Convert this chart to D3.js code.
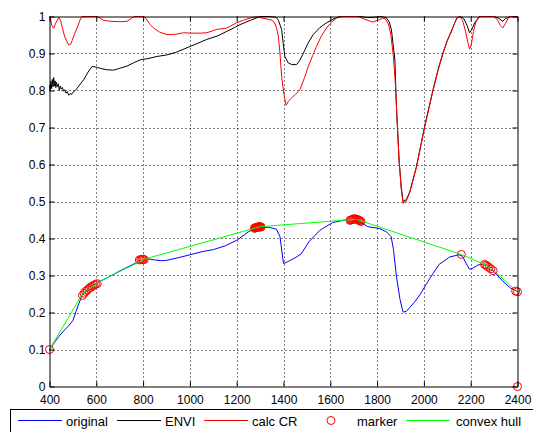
<!DOCTYPE html>
<html>
<head>
<meta charset="utf-8">
<script src="https://cdn.jsdelivr.net/npm/d3@7"></script>
<style>
  html, body { margin: 0; padding: 0; background: #fff; }
  svg { display: block; }
  text { font-family: "Liberation Sans", Arial, Helvetica, sans-serif; }
</style>
</head>
<body>
<svg id="chart" width="533" height="432"></svg>
<script>
// ---- tick labels ----
const xTicks = [400, 600, 800, 1000, 1200, 1400, 1600, 1800, 2000, 2200, 2400];
const yTicks = [0, 0.1, 0.2, 0.3, 0.4, 0.5, 0.6, 0.7, 0.8, 0.9, 1];
const yTickLabels = ["0", "0.1", "0.2", "0.3", "0.4", "0.5", "0.6", "0.7", "0.8", "0.9", "1"];

// ---- original reflectance spectrum ----
const originalWl = [400, 420, 440, 460, 480, 500, 520, 540, 560, 580, 600, 650, 700, 750, 800, 820, 850, 880, 900,
  950, 1000, 1050, 1100, 1150, 1200, 1250, 1280, 1300, 1340, 1370, 1385, 1400, 1420, 1445, 1475, 1510, 1555, 1610,
  1660, 1700, 1740, 1760, 1810, 1840, 1860, 1870, 1883, 1898, 1911, 1925, 1940, 1960, 1985, 2025, 2065, 2110, 2150,
  2165, 2180, 2195, 2210, 2230, 2250, 2270, 2300, 2325, 2350, 2370, 2390, 2400];
const originalVal = [0.100, 0.118, 0.135, 0.150, 0.163, 0.178, 0.215, 0.248, 0.260, 0.270, 0.279, 0.295, 0.312, 0.328,
  0.343, 0.345, 0.342, 0.340, 0.341, 0.348, 0.356, 0.364, 0.370, 0.380, 0.395, 0.418, 0.427, 0.430, 0.430, 0.425,
  0.405, 0.332, 0.338, 0.346, 0.358, 0.392, 0.422, 0.443, 0.450, 0.452, 0.440, 0.432, 0.427, 0.418, 0.405, 0.370,
  0.296, 0.235, 0.201, 0.203, 0.214, 0.228, 0.250, 0.292, 0.330, 0.350, 0.356, 0.352, 0.333, 0.317, 0.320, 0.328,
  0.331, 0.327, 0.310, 0.293, 0.277, 0.266, 0.260, 0.256];

// ---- ENVI continuum-removed spectrum ----
const enviWl = [400, 403, 406, 409, 412, 415, 418, 421, 424, 427, 430, 434, 438, 442, 446, 450, 455, 460, 465, 470,
  476, 482, 488, 494, 500, 510, 525, 546, 565, 582, 600, 617, 645, 674, 700, 731, 760, 788, 820, 859, 900, 940, 1001,
  1072, 1120, 1158, 1190, 1214, 1260, 1300, 1340, 1368, 1378, 1392, 1400, 1406, 1420, 1435, 1456, 1470, 1485, 1505,
  1527, 1555, 1584, 1615, 1641, 1700, 1730, 1760, 1790, 1820, 1840, 1852, 1861, 1876, 1883, 1894, 1903, 1911, 1925,
  1940, 1968, 2003, 2039, 2060, 2081, 2100, 2117, 2130, 2141, 2155, 2170, 2185, 2195, 2205, 2217, 2237, 2300, 2320,
  2337, 2350, 2370, 2400];
const enviVal = [0.815, 0.800, 0.825, 0.805, 0.830, 0.810, 0.835, 0.812, 0.826, 0.808, 0.822, 0.810, 0.818, 0.800,
  0.812, 0.804, 0.808, 0.798, 0.802, 0.793, 0.797, 0.787, 0.792, 0.789, 0.795, 0.800, 0.812, 0.829, 0.850, 0.865,
  0.863, 0.860, 0.856, 0.855, 0.860, 0.866, 0.875, 0.883, 0.886, 0.892, 0.896, 0.903, 0.919, 0.938, 0.948, 0.960,
  0.970, 0.978, 0.990, 1.000, 1.000, 0.998, 0.990, 0.965, 0.920, 0.892, 0.875, 0.870, 0.870, 0.882, 0.901, 0.928,
  0.951, 0.970, 0.983, 0.994, 1.000, 1.000, 1.000, 0.997, 0.998, 1.000, 0.996, 0.985, 0.965, 0.883, 0.748, 0.612,
  0.540, 0.500, 0.505, 0.527, 0.594, 0.703, 0.802, 0.855, 0.901, 0.935, 0.960, 0.980, 0.996, 1.000, 0.995, 0.975,
  0.956, 0.965, 0.983, 1.000, 1.000, 0.995, 0.987, 0.995, 1.000, 1.000];

// ---- calculated continuum removal ----
const calcWl = [400, 404, 410, 418, 425, 433, 440, 447, 455, 463, 472, 482, 490, 497, 507, 518, 530, 539, 600, 610,
  630, 660, 700, 731, 750, 760, 800, 812, 830, 845, 870, 902, 940, 973, 1010, 1044, 1072, 1100, 1115, 1158, 1200,
  1230, 1257, 1290, 1300, 1330, 1350, 1360, 1370, 1378, 1385, 1392, 1402, 1411, 1422, 1435, 1452, 1470, 1490, 1506,
  1525, 1541, 1560, 1584, 1605, 1627, 1650, 1720, 1745, 1780, 1805, 1824, 1836, 1848, 1858, 1870, 1878, 1885, 1894,
  1903, 1911, 1925, 1940, 1968, 2003, 2039, 2060, 2081, 2100, 2117, 2130, 2141, 2153, 2165, 2178, 2188, 2195, 2203,
  2212, 2222, 2237, 2300, 2315, 2327, 2337, 2347, 2360, 2370, 2400];
const calcVal = [1.000, 0.996, 0.975, 0.968, 0.980, 0.990, 0.998, 0.990, 0.970, 0.950, 0.935, 0.923, 0.925, 0.935,
  0.953, 0.969, 0.990, 1.000, 1.000, 0.998, 0.990, 0.987, 0.986, 0.987, 0.995, 1.000, 1.000, 0.995, 0.978, 0.969,
  0.958, 0.951, 0.952, 0.956, 0.955, 0.955, 0.956, 0.962, 0.965, 0.969, 0.983, 0.990, 0.996, 1.000, 0.997, 0.993,
  0.990, 0.985, 0.970, 0.947, 0.900, 0.838, 0.790, 0.760, 0.772, 0.780, 0.790, 0.802, 0.835, 0.865, 0.895, 0.919,
  0.945, 0.969, 0.985, 0.996, 1.000, 1.000, 0.993, 0.985, 0.990, 0.996, 0.993, 0.980, 0.955, 0.890, 0.820, 0.730,
  0.610, 0.535, 0.495, 0.502, 0.525, 0.592, 0.700, 0.800, 0.853, 0.899, 0.935, 0.958, 0.980, 0.996, 1.000, 0.990,
  0.960, 0.930, 0.912, 0.925, 0.960, 0.985, 1.000, 1.000, 0.990, 0.975, 0.969, 0.980, 0.995, 1.000, 1.000];

// ---- hull contact markers ----
const markerWl = [400,
  541, 548, 555, 562, 569, 576, 583, 590, 597, 604,
  784, 790, 795, 800, 805,
  1276, 1278, 1280, 1282, 1284, 1286, 1288, 1290, 1292, 1294, 1296, 1298, 1300, 1302, 1304,
  1684, 1688, 1692, 1696, 1700, 1704, 1708, 1712, 1716, 1720, 1724, 1728, 1731,
  2160, 2259, 2265, 2271, 2278, 2286, 2296, 2392, 2400, 2400];
const markerVal = [0.100,
  0.246, 0.252, 0.257, 0.261, 0.265, 0.268, 0.271, 0.274, 0.276, 0.278,
  0.342, 0.343, 0.344, 0.344, 0.343,
  0.428, 0.428, 0.429, 0.429, 0.430, 0.430, 0.430, 0.431, 0.431, 0.431, 0.432, 0.432, 0.432, 0.431, 0.431,
  0.449, 0.450, 0.451, 0.452, 0.453, 0.453, 0.453, 0.452, 0.451, 0.450, 0.449, 0.447, 0.446,
  0.357, 0.330, 0.328, 0.325, 0.322, 0.318, 0.313, 0.258, 0.256, 0];

// ---- convex hull vertices ----
const hullWl = [400, 540, 610, 810, 1300, 1710, 2160, 2265, 2300, 2400];
const hullVal = [0.100, 0.250, 0.283, 0.345, 0.432, 0.452, 0.357, 0.328, 0.312, 0.256];

// ---- legend entries ----
const legendLabels = ["original", "ENVI", "calc CR", "marker", "convex hull"];
const legendColors = ["#0000ff", "#000000", "#ff0000", "#ff0000", "#00ff00"];

const svg = d3.select("#chart");
svg.append("rect").attr("width", 533).attr("height", 432).attr("fill", "#fff");

const plotL = 49.5, plotR = 517.5, plotT = 16.5, plotB = 386.5;
const x = d3.scaleLinear().domain([400, 2400]).range([plotL, plotR]);
const y = d3.scaleLinear().domain([0, 1]).range([plotB, plotT]);

// dotted grid
const grid = svg.append("g").attr("stroke", "#000").attr("stroke-width", 1).attr("stroke-dasharray", "1,3");
grid.selectAll("line.gx").data(xTicks.slice(1, -1)).join("line")
  .attr("x1", d => Math.round(x(d)) + 0.5).attr("x2", d => Math.round(x(d)) + 0.5)
  .attr("y1", plotT).attr("y2", plotB);
grid.selectAll("line.gy").data(yTicks.slice(1, -1)).join("line")
  .attr("y1", d => Math.round(y(d)) + 0.5).attr("y2", d => Math.round(y(d)) + 0.5)
  .attr("x1", plotL).attr("x2", plotR);

const zip = (a, b) => a.map((v, i) => [v, b[i]]);
const line = d3.line().x(d => x(d[0])).y(d => y(d[1]));

function drawLine(wl, val, color) {
  svg.append("path").datum(zip(wl, val))
    .attr("fill", "none").attr("stroke", color).attr("stroke-width", 1)
    .attr("stroke-linejoin", "round").attr("d", line);
}
drawLine(originalWl, originalVal, "#0000ff");
drawLine(enviWl, enviVal, "#000000");
drawLine(calcWl, calcVal, "#ff0000");

svg.append("g").selectAll("circle").data(zip(markerWl, markerVal)).join("circle")
  .attr("cx", d => x(d[0])).attr("cy", d => y(d[1])).attr("r", 4)
  .attr("fill", "none").attr("stroke", "#ff0000").attr("stroke-width", 1);

drawLine(hullWl, hullVal, "#00ff00");

// axes with inward ticks on all four sides
const fmtY = d => yTickLabels[yTicks.indexOf(d)];
const axB = svg.append("g").attr("transform", `translate(0,${plotB})`)
  .call(d3.axisBottom(x).tickValues(xTicks).tickSizeInner(-5).tickSizeOuter(0).tickPadding(9).tickFormat(d => String(d)));
const axL = svg.append("g").attr("transform", `translate(${plotL},0)`)
  .call(d3.axisLeft(y).tickValues(yTicks).tickSizeInner(-5).tickSizeOuter(0).tickPadding(4).tickFormat(fmtY));
const axT = svg.append("g").attr("transform", `translate(0,${plotT})`)
  .call(d3.axisTop(x).tickValues(xTicks).tickSizeInner(-5).tickSizeOuter(0).tickFormat(""));
const axR = svg.append("g").attr("transform", `translate(${plotR},0)`)
  .call(d3.axisRight(y).tickValues(yTicks).tickSizeInner(-5).tickSizeOuter(0).tickFormat(""));
[axB, axL, axT, axR].forEach(g => {
  g.selectAll("text").attr("font-size", 12).attr("fill", "#000")
    .attr("font-family", '"Liberation Sans", Arial, sans-serif');
  g.selectAll("path,line").attr("stroke", "#000");
});

// legend
const lg = svg.append("g");
lg.append("rect").attr("x", 10.5).attr("y", 409.5).attr("width", 540).attr("height", 40)
  .attr("fill", "#fff").attr("stroke", "#000");
const lineX = [18, 117, 204, null, 406];
const textX = [66, 165, 252, 357, 456];
legendLabels.forEach((lab, i) => {
  if (lineX[i] !== null) {
    lg.append("line").attr("x1", lineX[i]).attr("x2", lineX[i] + 44).attr("y1", 420.5).attr("y2", 420.5)
      .attr("stroke", legendColors[i]).attr("stroke-width", 1);
  } else {
    lg.append("circle").attr("cx", 331).attr("cy", 420.5).attr("r", 4)
      .attr("fill", "none").attr("stroke", legendColors[i]);
  }
  lg.append("text").attr("x", textX[i]).attr("y", 425.5).attr("font-size", 13).attr("fill", "#000").text(lab);
});
</script>
</body>
</html>
